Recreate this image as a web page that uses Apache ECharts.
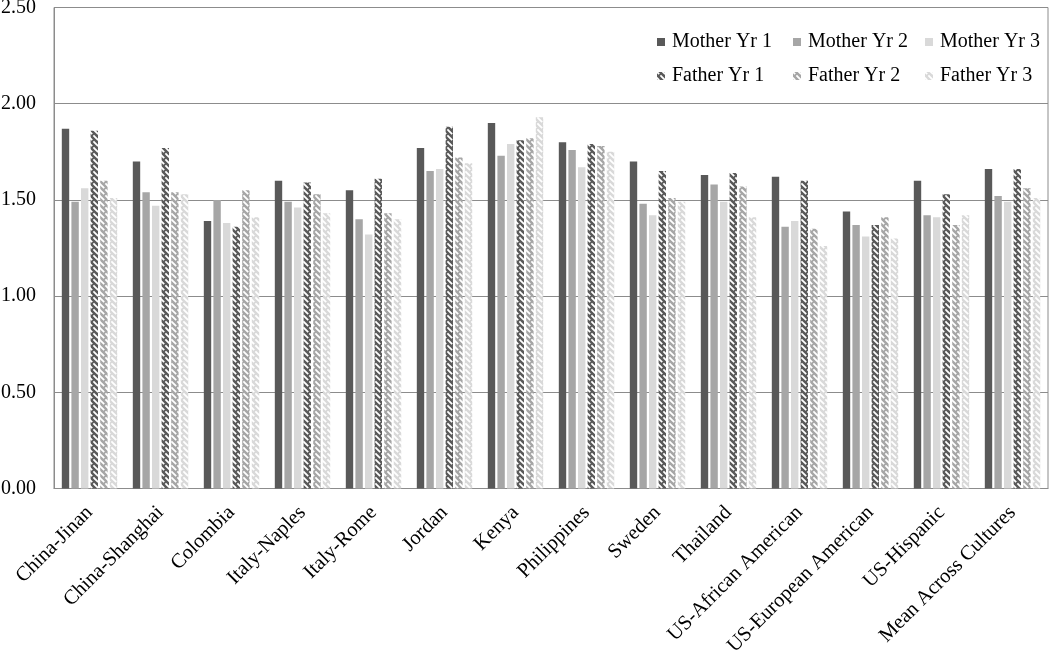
<!DOCTYPE html>
<html>
<head>
<meta charset="utf-8">
<script src="https://cdn.jsdelivr.net/npm/echarts@6/dist/echarts.min.js"></script>
<style>
  html, body { margin: 0; padding: 0; background: #fff; }
  #chart { width: 1050px; height: 655px; }
</style>
</head>
<body>
<div id="chart"></div>
<script>
// categories and values
const categories = ['China-Jinan', 'China-Shanghai', 'Colombia', 'Italy-Naples', 'Italy-Rome', 'Jordan', 'Kenya',
  'Philippines', 'Sweden', 'Thailand', 'US-African American', 'US-European American', 'US-Hispanic', 'Mean Across Cultures'];
const motherYr1 = [1.87, 1.70, 1.39, 1.60, 1.55, 1.77, 1.90, 1.80, 1.70, 1.63, 1.62, 1.44, 1.60, 1.66];
const motherYr2 = [1.49, 1.54, 1.50, 1.49, 1.40, 1.65, 1.73, 1.76, 1.48, 1.58, 1.36, 1.37, 1.42, 1.52];
const motherYr3 = [1.56, 1.47, 1.38, 1.46, 1.32, 1.66, 1.79, 1.67, 1.42, 1.49, 1.39, 1.31, 1.41, 1.49];
const fatherYr1 = [1.86, 1.77, 1.36, 1.59, 1.61, 1.88, 1.81, 1.79, 1.65, 1.64, 1.60, 1.37, 1.53, 1.66];
const fatherYr2 = [1.60, 1.54, 1.55, 1.53, 1.43, 1.72, 1.82, 1.78, 1.51, 1.57, 1.35, 1.41, 1.37, 1.56];
const fatherYr3 = [1.51, 1.53, 1.41, 1.43, 1.40, 1.69, 1.93, 1.75, 1.49, 1.41, 1.26, 1.30, 1.42, 1.51];

const font = "'Liberation Serif', 'DejaVu Serif', serif";
const dark = '#595959', mid = '#a6a6a6', light = '#d9d9d9';

// dashed diagonal stripes for the father bars
function stripes(color) {
    let c = document.createElement('canvas');
    c.width = 6;
    c.height = 6;
    let ctx = c.getContext('2d');
    ctx.fillStyle = color;
    ctx.fillRect(0, 0, 6, 6);
    ctx.strokeStyle = '#ffffff';
    ctx.lineWidth = 1.8;
    ctx.beginPath();
    ctx.moveTo(-1, -1); ctx.lineTo(2.2, 2.2);
    ctx.moveTo(3.4, 3.4); ctx.lineTo(7, 7);
    ctx.moveTo(5, -1); ctx.lineTo(7, 1);
    ctx.moveTo(-1, 5); ctx.lineTo(1, 7);
    ctx.stroke();
    return { image: c, repeat: 'repeat' };
}

function bar(name, data, color) {
    return {
        name: name,
        type: 'bar',
        data: data,
        barGap: '30%',
        barCategoryGap: '22%',
        itemStyle: { color: color },
        emphasis: { disabled: true }
    };
}

function legendCol(left, names) {
    return {
        orient: 'vertical',
        left: left,
        top: 27,
        itemWidth: 8,
        itemHeight: 8,
        itemGap: 14,
        icon: 'rect',
        data: names,
        selectedMode: false,
        textStyle: { fontFamily: font, fontSize: 20, color: '#000', lineHeight: 20, padding: [0, 0, 0, 2] }
    };
}

let chart = echarts.init(document.getElementById('chart'));
chart.setOption({
    animation: false,
    backgroundColor: '#fff',
    grid: {
        left: 54, right: 2, top: 7.5, bottom: 166.5,
        outerBoundsMode: 'none',
        containLabel: false,
        show: true, borderColor: '#8c8c8c', borderWidth: 1
    },
    legend: [
        legendCol(652, ['Mother Yr 1', 'Father Yr 1']),
        legendCol(788, ['Mother Yr 2', 'Father Yr 2']),
        legendCol(920, ['Mother Yr 3', 'Father Yr 3'])
    ],
    xAxis: {
        type: 'category',
        data: categories,
        axisLine: { lineStyle: { color: '#8c8c8c', width: 1 } },
        axisTick: { show: false },
        axisLabel: {
            interval: 0,
            rotate: 45,
            margin: 21,
            fontFamily: font,
            fontSize: 20.5,
            color: '#000'
        }
    },
    yAxis: {
        type: 'value',
        min: 0,
        max: 2.5,
        interval: 0.5,
        axisLine: { show: true, lineStyle: { color: '#8c8c8c' } },
        axisTick: { show: false },
        splitLine: { lineStyle: { color: '#8c8c8c', width: 1 } },
        axisLabel: {
            margin: 18,
            fontFamily: font,
            fontSize: 20,
            color: '#000',
            formatter: function (v) { return v.toFixed(2); }
        }
    },
    series: [
        bar('Mother Yr 1', motherYr1, dark),
        bar('Mother Yr 2', motherYr2, mid),
        bar('Mother Yr 3', motherYr3, light),
        bar('Father Yr 1', fatherYr1, stripes(dark)),
        bar('Father Yr 2', fatherYr2, stripes(mid)),
        bar('Father Yr 3', fatherYr3, stripes(light))
    ]
});
</script>
</body>
</html>
